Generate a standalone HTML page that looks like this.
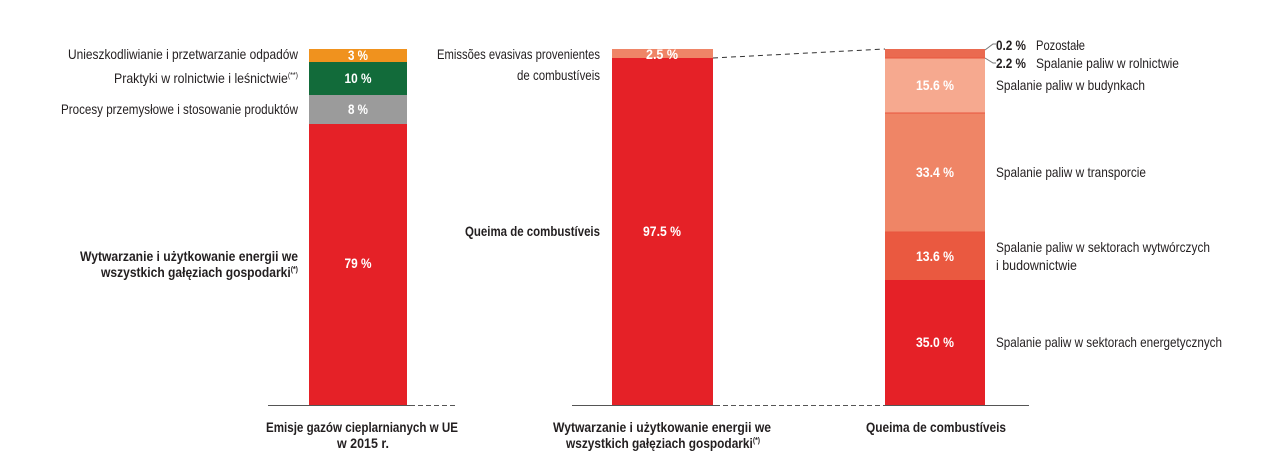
<!DOCTYPE html>
<html><head><meta charset="utf-8"><style>
body{margin:0;background:#fff;}
svg text{font-family:"Liberation Sans Narrow","Liberation Sans",sans-serif;font-size:14px;fill:#231f20;}
.w{fill:#fff;font-weight:bold;text-anchor:middle;}
.r{text-anchor:end;}
.b{font-weight:bold;}
</style></head><body>
<svg width="1283" height="471" xmlns="http://www.w3.org/2000/svg">
<!-- bar 1 -->
<rect x="309" y="49" width="98" height="13" fill="#f0921e"/>
<rect x="309" y="62" width="98" height="33" fill="#126b3a"/>
<rect x="309" y="95" width="98" height="29" fill="#9b9b9b"/>
<rect x="309" y="124" width="98" height="281" fill="#e52127"/>
<text class="w" x="358" y="60" textLength="20" lengthAdjust="spacingAndGlyphs">3 %</text>
<text class="w" x="358" y="83" textLength="27" lengthAdjust="spacingAndGlyphs">10 %</text>
<text class="w" x="358" y="114" textLength="20" lengthAdjust="spacingAndGlyphs">8 %</text>
<text class="w" x="358" y="268" textLength="27" lengthAdjust="spacingAndGlyphs">79 %</text>
<text class="r" x="298" y="59" textLength="230" lengthAdjust="spacingAndGlyphs">Unieszkodliwianie i przetwarzanie odpadów</text>
<text class="r" x="298" y="83" textLength="184" lengthAdjust="spacingAndGlyphs">Praktyki w rolnictwie i leśnictwie<tspan font-size="8" dy="-5">(**)</tspan></text>
<text class="r" x="298" y="114" textLength="237" lengthAdjust="spacingAndGlyphs">Procesy przemysłowe i stosowanie produktów</text>
<text class="r b" x="298" y="261" textLength="218" lengthAdjust="spacingAndGlyphs">Wytwarzanie i użytkowanie energii we</text>
<text class="r b" x="298" y="277" textLength="197" lengthAdjust="spacingAndGlyphs">wszystkich gałęziach gospodarki<tspan font-size="8" dy="-5">(*)</tspan></text>
<!-- bar 2 -->
<rect x="612" y="49" width="101" height="9" fill="#ef8567"/>
<rect x="612" y="58" width="101" height="347" fill="#e52127"/>
<text class="w" x="662" y="59" textLength="32" lengthAdjust="spacingAndGlyphs">2.5 %</text>
<text class="w" x="662" y="236" textLength="38" lengthAdjust="spacingAndGlyphs">97.5 %</text>
<text class="r" x="600" y="59" textLength="163" lengthAdjust="spacingAndGlyphs">Emissões evasivas provenientes</text>
<text class="r" x="600" y="80" textLength="83" lengthAdjust="spacingAndGlyphs">de combustíveis</text>
<text class="r b" x="600" y="236" textLength="135" lengthAdjust="spacingAndGlyphs">Queima de combustíveis</text>
<!-- bar 3 -->
<rect x="885" y="49" width="100" height="9" fill="#ea6a50"/>
<rect x="885" y="58" width="100" height="55" fill="#f6a98f"/>
<rect x="885" y="113" width="100" height="119" fill="#ef8566"/>
<rect x="885" y="232" width="100" height="48" fill="#ea5940"/>
<rect x="885" y="280" width="100" height="125" fill="#e52127"/>
<line x1="885" y1="58" x2="985" y2="58" stroke="#e8553e" stroke-width="1"/>
<line x1="885" y1="113" x2="985" y2="113" stroke="#e8553e" stroke-width="1"/>
<line x1="885" y1="232" x2="985" y2="232" stroke="#e8553e" stroke-width="1"/>
<text class="w" x="935" y="90" textLength="38" lengthAdjust="spacingAndGlyphs">15.6 %</text>
<text class="w" x="935" y="177" textLength="38" lengthAdjust="spacingAndGlyphs">33.4 %</text>
<text class="w" x="935" y="261" textLength="38" lengthAdjust="spacingAndGlyphs">13.6 %</text>
<text class="w" x="935" y="347" textLength="38" lengthAdjust="spacingAndGlyphs">35.0 %</text>
<polyline points="985,50 993,44 996,44" fill="none" stroke="#777" stroke-width="1"/>
<polyline points="985,58 993,63 996,63" fill="none" stroke="#777" stroke-width="1"/>
<text class="b" x="996" y="50" textLength="30" lengthAdjust="spacingAndGlyphs">0.2 %</text>
<text x="1036" y="50" textLength="49" lengthAdjust="spacingAndGlyphs">Pozostałe</text>
<text class="b" x="996" y="68" textLength="30" lengthAdjust="spacingAndGlyphs">2.2 %</text>
<text x="1036" y="68" textLength="143" lengthAdjust="spacingAndGlyphs">Spalanie paliw w rolnictwie</text>
<text x="996" y="90" textLength="149" lengthAdjust="spacingAndGlyphs">Spalanie paliw w budynkach</text>
<text x="996" y="177" textLength="150" lengthAdjust="spacingAndGlyphs">Spalanie paliw w transporcie</text>
<text x="996" y="252" textLength="214" lengthAdjust="spacingAndGlyphs">Spalanie paliw w sektorach wytwórczych</text>
<text x="996" y="270" textLength="81" lengthAdjust="spacingAndGlyphs">i budownictwie</text>
<text x="996" y="347" textLength="226" lengthAdjust="spacingAndGlyphs">Spalanie paliw w sektorach energetycznych</text>
<!-- connectors -->
<line x1="713" y1="58" x2="885" y2="49" stroke="#333" stroke-width="1" stroke-dasharray="5,4"/>
<!-- baselines -->
<line x1="268" y1="405.5" x2="410" y2="405.5" stroke="#555" stroke-width="1"/>
<line x1="410" y1="405.5" x2="455" y2="405.5" stroke="#555" stroke-width="1" stroke-dasharray="5,3"/>
<line x1="572" y1="405.5" x2="715" y2="405.5" stroke="#555" stroke-width="1"/>
<line x1="715" y1="405.5" x2="887" y2="405.5" stroke="#555" stroke-width="1" stroke-dasharray="5,3"/>
<line x1="887" y1="405.5" x2="1029" y2="405.5" stroke="#555" stroke-width="1"/>
<!-- category labels -->
<text class="b" x="266" y="432" textLength="192" lengthAdjust="spacingAndGlyphs">Emisje gazów cieplarnianych w UE</text>
<text class="b" x="337" y="448" textLength="52" lengthAdjust="spacingAndGlyphs">w 2015 r.</text>
<text class="b" x="553" y="432" textLength="218" lengthAdjust="spacingAndGlyphs">Wytwarzanie i użytkowanie energii we</text>
<text class="b" x="566" y="448" textLength="194" lengthAdjust="spacingAndGlyphs">wszystkich gałęziach gospodarki<tspan font-size="8" dy="-5">(*)</tspan></text>
<text class="b" x="866" y="432" textLength="140" lengthAdjust="spacingAndGlyphs">Queima de combustíveis</text>
</svg>
</body></html>
